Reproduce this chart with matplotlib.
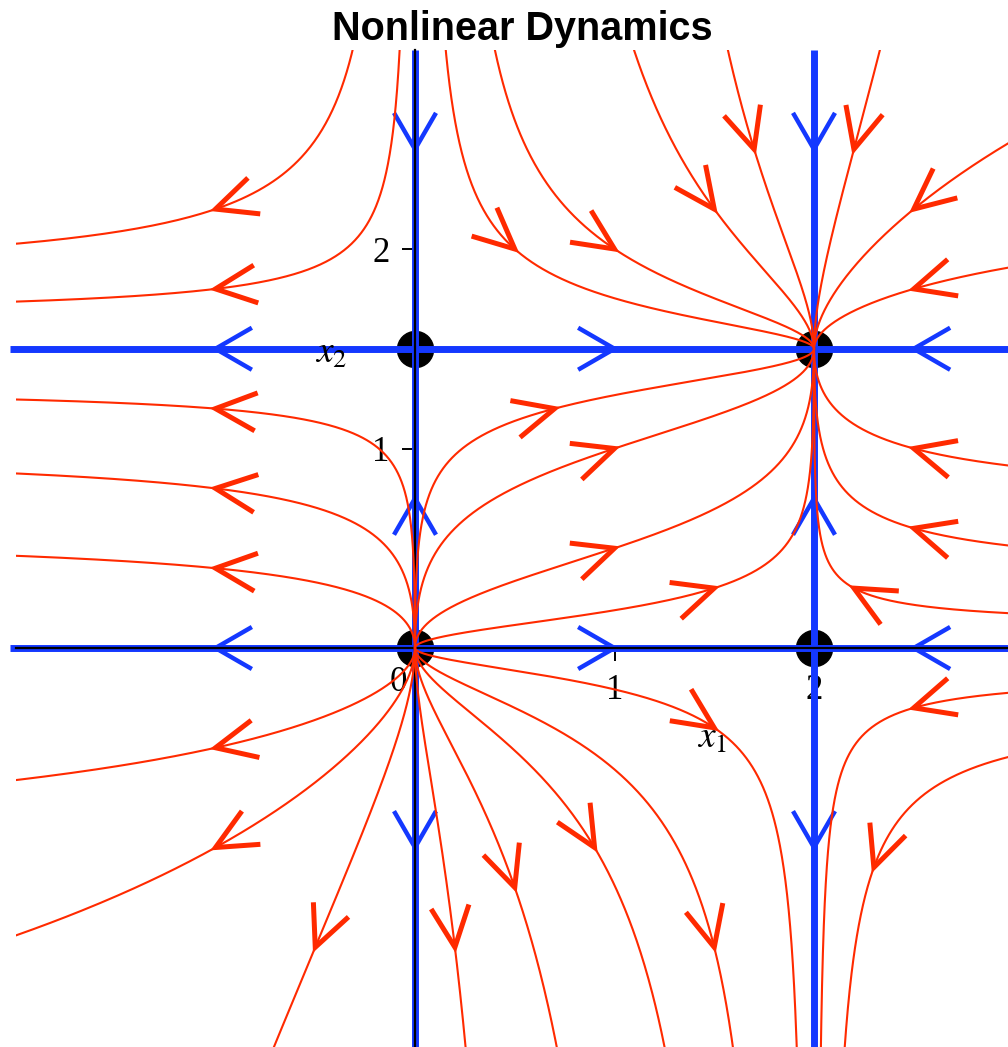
import numpy as np
import matplotlib
matplotlib.use("Agg")
import matplotlib.pyplot as plt

# Phase plane of x1' = x1 (2 - x1),  x2' = x2 (1 - x2 / 1.5)
growth_x, capacity_x = 2.0, 2.0
growth_y, capacity_y = 1.0, 1.5

# Equilibria
eq_x = [0.0, 2.0, 0.0, 2.0]
eq_y = [0.0, 0.0, 1.5, 1.5]

# Starting points of the sample trajectories (arrow drawn at each)
start_x = [-1.0, -1.0, -1.0, -1.0, -1.0, -1.0, -1.0, -0.5, 0.2, 0.5,
           0.9, 1.5, 1.5, 2.5, 2.3, 2.5, 2.5, 2.5, 2.2, 1.5,
           1.0, 1.0, 0.7, 0.5, 1.0, 1.5, 1.7, 2.2, 2.5]
start_y = [2.2, 1.8, 1.2, 0.8, 0.4, -0.5, -1.0, -1.5, -1.5, -1.2,
           -1.0, -1.5, -0.4, -0.3, -1.1, 1.8, 1.0, 0.6, 0.3, 0.3,
           0.5, 1.0, 1.2, 2.0, 2.0, 2.2, 2.5, 2.5, 2.2]

# Arrows on the invariant lines
line_arrow_x = [-1.0, 1.0, 2.5, -1.0, 1.0, 2.5, 0.0, 0.0, 0.0, 2.0, 2.0, 2.0]
line_arrow_y = [1.5, 1.5, 1.5, 0.0, 0.0, 0.0, 2.5, 0.75, -1.0, 2.5, 0.75, -1.0]

xlim = (-2.0, 3.0)
ylim = (-2.0, 3.0)

RED = "#ff2a00"
BLUE = "#1438ff"


def field(x, y):
    return (growth_x * x * (1 - x / capacity_x),
            growth_y * y * (1 - y / capacity_y))


def integrate(x0, y0, sign, dt=0.004, t_end=14.0):
    x = np.array(x0, float)
    y = np.array(y0, float)
    alive = np.ones_like(x, bool)
    hx, hy = [x.copy()], [y.copy()]
    lo, hi = -2.3, 3.3
    for _ in range(int(t_end / dt)):
        def f(a, b):
            u, v = field(a, b)
            return sign * u, sign * v
        k1 = f(x, y)
        k2 = f(x + dt / 2 * k1[0], y + dt / 2 * k1[1])
        k3 = f(x + dt / 2 * k2[0], y + dt / 2 * k2[1])
        k4 = f(x + dt * k3[0], y + dt * k3[1])
        nx = x + dt / 6 * (k1[0] + 2 * k2[0] + 2 * k3[0] + k4[0])
        ny = y + dt / 6 * (k1[1] + 2 * k2[1] + 2 * k3[1] + k4[1])
        x = np.where(alive, nx, x)
        y = np.where(alive, ny, y)
        hx.append(x.copy())
        hy.append(y.copy())
        alive &= (x > lo) & (x < hi) & (y > lo) & (y < hi)
        if not alive.any():
            break
    return np.array(hx), np.array(hy)


def chevron(ax, x0, y0, length, half_angle, color, lw, z):
    u, v = field(x0, y0)
    n = np.hypot(u, v)
    bx, by = -u / n, -v / n
    a = np.radians(half_angle)
    pts = []
    for s in (1, -1):
        c, sn = np.cos(s * a), np.sin(s * a)
        pts.append((x0 + length * (c * bx - sn * by), y0 + length * (sn * bx + c * by)))
    ax.plot([pts[0][0], x0, pts[1][0]], [pts[0][1], y0, pts[1][1]], color=color,
            lw=lw, solid_joinstyle="miter", solid_capstyle="butt", zorder=z)


plt.rcParams["mathtext.fontset"] = "stix"

W, H = 1008, 1047
fig = plt.figure(figsize=(W / 100, H / 100), dpi=100)
scale = 199.5
ax = fig.add_axes([16 / W, 0.0, 5 * scale / W, 5 * scale / H])
ax.set_xlim(*xlim)
ax.set_ylim(*ylim)
ax.set_aspect("equal")

# Axes through the origin
for side in ("top", "right"):
    ax.spines[side].set_visible(False)
ax.spines["left"].set_position(("data", 0))
ax.spines["bottom"].set_position(("data", 0))
for side in ("left", "bottom"):
    ax.spines[side].set_linewidth(1.6)
    ax.spines[side].set_zorder(3)
ax.set_xticks([1, 2])
ax.set_yticks([1, 2])
ax.tick_params(direction="out", length=9.5, width=1.4, pad=9,
               labelsize=25, labelfontfamily="Liberation Serif")
ax.text(-0.085, -0.175, "0", fontsize=25, family="Liberation Serif",
        ha="center", va="center")
ax.text(1.49, -0.45, r"$x_1$", fontsize=27, ha="center", va="center")
ax.text(-0.42, 1.48, r"$x_2$", fontsize=27, ha="center", va="center")

# Equilibria
ax.plot(eq_x, eq_y, "o", color="black", ms=26, zorder=1, clip_on=False)

# Invariant lines
for xv in sorted(set(eq_x)):
    ax.plot([xv, xv], [ylim[0] - 0.02, ylim[1]], color=BLUE, lw=5,
            solid_capstyle="butt", zorder=2, clip_on=False)
for yv in sorted(set(eq_y)):
    ax.plot([xlim[0] - 0.03, xlim[1]], [yv, yv], color=BLUE, lw=5,
            solid_capstyle="butt", zorder=2, clip_on=False)
for ax_x, ax_y in zip(line_arrow_x, line_arrow_y):
    chevron(ax, ax_x, ax_y, 42 / scale, 30, BLUE, 3.2, 2.2)

# Trajectories
fx, fy = integrate(start_x, start_y, +1)
bx, by = integrate(start_x, start_y, -1)
for i in range(len(start_x)):
    px = np.concatenate([bx[::-1, i], fx[1:, i]])
    py = np.concatenate([by[::-1, i], fy[1:, i]])
    ax.plot(px, py, color=RED, lw=1.5, zorder=4)
    chevron(ax, start_x[i], start_y[i], 45 / scale, 25, RED, 3.6, 4.2)

fig.text(522 / W, 1 - 40 / H, "Nonlinear Dynamics", ha="center", va="baseline",
         fontsize=28.5, fontweight="bold", family="Liberation Sans")

fig.savefig("out.png", dpi=100)
